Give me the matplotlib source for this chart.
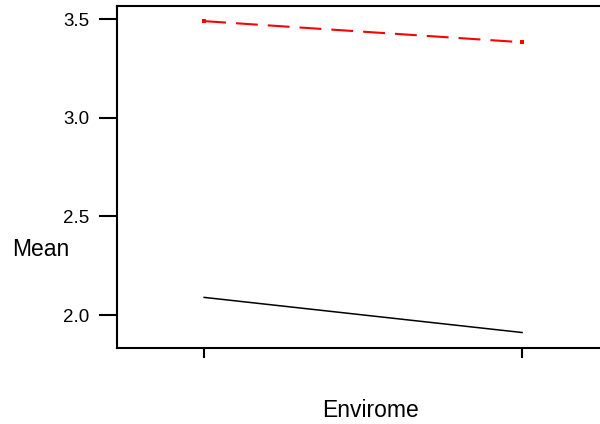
import matplotlib
matplotlib.use("Agg")
import matplotlib.pyplot as plt

plt.rcParams["font.family"] = ["Liberation Sans", "DejaVu Sans"]

# profile plot data: two levels on the x axis, one line per group
levels = [1, 2]
group_a = [3.49, 3.383]   # dashed red
group_b = [2.09, 1.912]   # solid black
y_ticks = [2.0, 2.5, 3.0, 3.5]

fig = plt.figure(figsize=(6, 4.24), dpi=100)
ax = fig.add_axes([0.195, 0.179, 0.805, 0.807])

ax.plot(levels, group_a, color="red", lw=1.5, linestyle=(0, (10.5, 4.8)),
        marker="s", markersize=2.5, markeredgewidth=0)
ax.plot(levels, group_b, color="black", lw=1.1)

ax.set_xlim(0.726, 2.245)
ax.set_ylim(1.833, 3.567)
ax.set_xticks(levels)
ax.set_xticklabels(["", ""])
ax.set_yticks(y_ticks)
ax.set_yticklabels([f"{v:.1f}" for v in y_ticks])

ax.spines["right"].set_visible(False)
for s in ["left", "top", "bottom"]:
    ax.spines[s].set_linewidth(1.5)

ax.tick_params(axis="y", length=13, width=1.5, labelsize=13.5, pad=7)
ax.tick_params(axis="x", length=7.5, width=1.5)

ax.set_ylabel("Mean", rotation=0, fontsize=16.5, ha="center", va="center")
ax.yaxis.set_label_coords(-0.157, 0.287)
ax.set_xlabel("Envirome", fontsize=16.5, ha="center", va="center")
ax.xaxis.set_label_coords(0.524, -0.181)

fig.savefig("out.png", dpi=100)
